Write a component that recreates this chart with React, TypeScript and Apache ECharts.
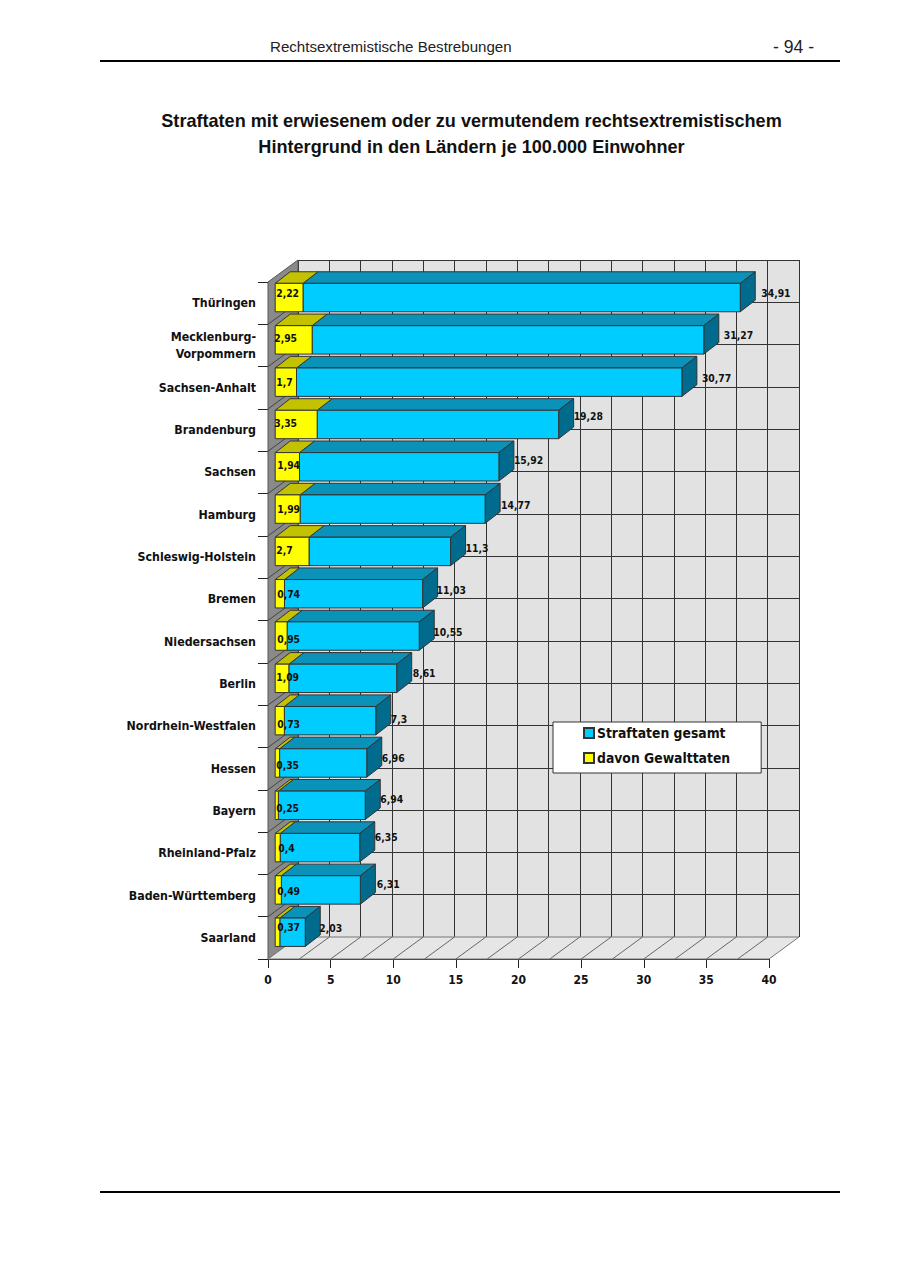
import React, { useEffect, useRef } from "react";
import * as echarts from "echarts";

const laender = [
  "Thüringen", "Mecklenburg-\nVorpommern", "Sachsen-Anhalt", "Brandenburg", "Sachsen", "Hamburg",
  "Schleswig-Holstein", "Bremen", "Niedersachsen", "Berlin", "Nordrhein-Westfalen", "Hessen",
  "Bayern", "Rheinland-Pfalz", "Baden-Württemberg", "Saarland",
];
const gesamt = [34.91, 31.27, 30.77, 19.28, 15.92, 14.77, 11.3, 11.03, 10.55, 8.61, 7.3, 6.96, 6.94, 6.35, 6.31, 2.03];
const gewalt = [2.22, 2.95, 1.7, 3.35, 1.94, 1.99, 2.7, 0.74, 0.95, 1.09, 0.73, 0.35, 0.25, 0.4, 0.49, 0.37];
const gridSteps = [2.5, 5, 7.5, 10, 12.5, 15, 17.5, 20, 22.5, 25, 27.5, 30, 32.5, 35, 37.5];

// the hand-placed offsets of the value labels in the picture
const gewaltLabelDx = [1, -1, 1, -1, 2, 2, 1, 2, 2, 1, 2, 1, 1, 3, 2, 2];
const gewaltLabelDy = [-4.5, -2, 0, -1.5, -2, 0, -1, 0, 2.5, -1, 3, 2.5, 3, 0, 1.5, -5];
const gesamtLabelDx = [6, 5, 5, 0, 0, 1, 0, -1, -1, 1, 0, 0, 0, 0, 1.5, -1];
const gesamtLabelDy = [-4.5, -5, -4, -8, -7, -4, -3, -4, -4, -5, -2, -4.5, -6, -11, -5.5, -4];

const FONT = "DejaVu Sans Condensed";
const TITLE_FONT = "Liberation Sans";
const PLOT = { left: 268, right: 769, top: 282, bottom: 959 };
const WALL = { dx: 30, dy: -22 };
const BAR = { dx: 15, dy: -11.6, insetX: 7.2, insetY: -5.6, height: 28.4 };
const LINE = "#333333";

const fmt = (v: number) => String(v).replace(".", ",");

function barShapes(api: any, start: number, end: number, cat: number, front: string, top: string, side: string | null) {
  const p0 = api.coord([start, cat]);
  const p1 = api.coord([end, cat]);
  const x0 = p0[0] + BAR.insetX;
  const x1 = p1[0] + BAR.insetX;
  const yT = p0[1] + BAR.insetY - BAR.height / 2;
  const yB = yT + BAR.height;
  const stroke = { stroke: "#333", lineWidth: 1 };
  const children: any[] = [
    { type: "polygon", shape: { points: [[x0, yT], [x1, yT], [x1 + BAR.dx, yT + BAR.dy], [x0 + BAR.dx, yT + BAR.dy]] }, style: { fill: top, ...stroke } },
  ];
  if (side) {
    children.push({ type: "polygon", shape: { points: [[x1, yT], [x1 + BAR.dx, yT + BAR.dy], [x1 + BAR.dx, yB + BAR.dy], [x1, yB]] }, style: { fill: side, ...stroke } });
  }
  children.push({ type: "rect", shape: { x: x0, y: yT, width: x1 - x0, height: BAR.height }, style: { fill: front, ...stroke } });
  return { x1, yC: (yT + yB) / 2, x0, children };
}

const valueLabel = (text: string, x: number, y: number) => ({
  type: "text",
  z2: 50,
  style: { text, x, y, font: `bold 10.3px "${FONT}"`, fill: "#111", textAlign: "left", textVerticalAlign: "middle" },
});

export default function App() {
  const ref = useRef<HTMLDivElement>(null);
  useEffect(() => {
    const chart = echarts.init(ref.current!, null, { renderer: "svg" });
    chart.setOption({
      animation: false,
      backgroundColor: "#fff",
      title: {
        text: "Straftaten mit erwiesenem oder zu vermutendem rechtsextremistischem\nHintergrund in den Ländern je 100.000 Einwohner",
        left: 471.5,
        top: 107.5,
        padding: 0,
        textAlign: "center",
        textStyle: { fontFamily: TITLE_FONT, fontWeight: "bold", fontSize: 18.1, lineHeight: 26, color: "#111" },
      },
      legend: {
        orient: "vertical",
        left: 553,
        top: 722,
        data: ["Straftaten gesamt", "davon Gewalttaten"],
        icon: "rect",
        itemWidth: 10,
        itemHeight: 10,
        itemGap: 11,
        padding: [4, 31, 8, 30],
        backgroundColor: "#fff",
        borderColor: "#333",
        borderWidth: 1,
        selectedMode: false,
        textStyle: { fontFamily: FONT, fontWeight: "bold", fontSize: 13.8, color: "#111", padding: [0, 0, 0, -2] },
      },
      graphic: [
        { type: "line", shape: { x1: 100, y1: 61, x2: 840, y2: 61 }, style: { stroke: "#000", lineWidth: 2 } },
        { type: "line", shape: { x1: 100, y1: 1192, x2: 840, y2: 1192 }, style: { stroke: "#000", lineWidth: 2 } },
        { type: "text", style: { text: "Rechtsextremistische Bestrebungen", x: 270, y: 46.5, font: `15.1px "${TITLE_FONT}"`, fill: "#222", textAlign: "left", textVerticalAlign: "middle" } },
        { type: "text", style: { text: "- 94 -", x: 814, y: 46.5, font: `17.6px "${TITLE_FONT}"`, fill: "#222", textAlign: "right", textVerticalAlign: "middle" } },
      ],
      grid: [
        { left: PLOT.left, top: PLOT.top, width: PLOT.right - PLOT.left, height: PLOT.bottom - PLOT.top, containLabel: false },
        {
          left: PLOT.left + WALL.dx,
          top: PLOT.top + WALL.dy,
          width: PLOT.right - PLOT.left,
          height: PLOT.bottom - PLOT.top,
          show: true,
          backgroundColor: "#e2e2e2",
          borderWidth: 0,
        },
      ],
      xAxis: [
        {
          type: "value",
          gridIndex: 0,
          min: 0,
          max: 40,
          interval: 5,
          splitLine: { show: false },
          axisLine: { show: true, lineStyle: { color: "#222", width: 1 } },
          axisTick: { show: true, length: 9, lineStyle: { color: "#222" } },
          axisLabel: { fontFamily: FONT, fontWeight: "bold", fontSize: 12, color: "#111", margin: 15 },
        },
        {
          type: "value",
          gridIndex: 1,
          min: 0,
          max: 40,
          interval: 2.5,
          axisLine: { show: false },
          axisTick: { show: false },
          axisLabel: { show: false },
          splitLine: { show: true, lineStyle: { color: LINE, width: 1 } },
        },
      ],
      yAxis: [
        {
          type: "category",
          gridIndex: 0,
          inverse: true,
          data: laender,
          axisLine: { show: true, lineStyle: { color: "#222", width: 1 } },
          axisTick: { show: true, length: 10, lineStyle: { color: "#222" } },
          axisLabel: { interval: 0, fontFamily: FONT, fontWeight: "bold", fontSize: 12.3, lineHeight: 17, padding: [0, 0, 3, 0], color: "#111", margin: 12 },
        },
        {
          type: "category",
          gridIndex: 1,
          inverse: true,
          data: laender,
          axisLine: { show: false },
          axisTick: { show: false },
          axisLabel: { show: false },
          splitLine: { show: true, interval: 0, lineStyle: { color: LINE, width: 1 } },
        },
      ],
      series: [
        {
          type: "custom",
          name: "Rahmen",
          silent: true,
          xAxisIndex: 0,
          yAxisIndex: 0,
          z: 1,
          data: [[0, 0]],
          renderItem: (_p: any, api: any) => {
            const band = api.size([0, 1])[1];
            const tl = [api.coord([0, 0])[0], api.coord([0, 0])[1] - band / 2];
            const bl = [tl[0], api.coord([0, laender.length - 1])[1] + band / 2];
            const br = [api.coord([40, 0])[0], bl[1]];
            const back = (p: number[]) => [p[0] + WALL.dx, p[1] + WALL.dy];
            const children: any[] = [
              { type: "polygon", shape: { points: [tl, back(tl), back(bl), bl] }, style: { fill: "#8a8a8a", stroke: "#555", lineWidth: 1 } },
              { type: "polygon", shape: { points: [bl, br, back(br), back(bl)] }, style: { fill: "#e6e6e6", stroke: "#777", lineWidth: 1 } },
            ];
            gridSteps.forEach((v) => {
              const f = [api.coord([v, 0])[0], bl[1]];
              const b = back(f);
              children.push({ type: "line", shape: { x1: f[0], y1: f[1], x2: b[0], y2: b[1] }, style: { stroke: "#666", lineWidth: 1 } });
            });
            laender.forEach((_, i) => {
              if (i === 0) return;
              const f = [tl[0], api.coord([0, i])[1] - band / 2];
              const b = back(f);
              children.push({ type: "line", shape: { x1: f[0], y1: f[1], x2: b[0], y2: b[1] }, style: { stroke: "#444", lineWidth: 1 } });
            });
            return { type: "group", children };
          },
        },
        {
          type: "custom",
          name: "Straftaten gesamt",
          xAxisIndex: 0,
          yAxisIndex: 0,
          z: 3,
          itemStyle: { color: "#00ccff", borderColor: "#333", borderWidth: 1 },
          encode: { x: [1, 2], y: 0 },
          data: gesamt.map((v, i) => [i, gewalt[i], gewalt[i] + v]),
          renderItem: (p: any, api: any) => {
            const i = p.dataIndex;
            const s = barShapes(api, api.value(1), api.value(2), i, "#00ccff", "#0a92b8", "#006b8c");
            return {
              type: "group",
              children: [
                ...s.children,
                valueLabel(fmt(gesamt[i]), s.x1 + BAR.dx + gesamtLabelDx[i], s.yC + gesamtLabelDy[i]),
              ],
            };
          },
        },
        {
          type: "custom",
          name: "davon Gewalttaten",
          xAxisIndex: 0,
          yAxisIndex: 0,
          z: 4,
          itemStyle: { color: "#ffff00", borderColor: "#333", borderWidth: 1 },
          encode: { x: [1, 2], y: 0 },
          data: gewalt.map((v, i) => [i, 0, v]),
          renderItem: (p: any, api: any) => {
            const i = p.dataIndex;
            const s = barShapes(api, api.value(1), api.value(2), i, "#ffff00", "#c2c200", null);
            return {
              type: "group",
              children: [
                ...s.children,
                valueLabel(fmt(gewalt[i]), s.x0 + gewaltLabelDx[i], s.yC + gewaltLabelDy[i]),
              ],
            };
          },
        },
      ],
    });
    return () => chart.dispose();
  }, []);
  return <div ref={ref} style={{ position: "absolute", left: 0, top: 0, width: 900, height: 1273 }} />;
}
